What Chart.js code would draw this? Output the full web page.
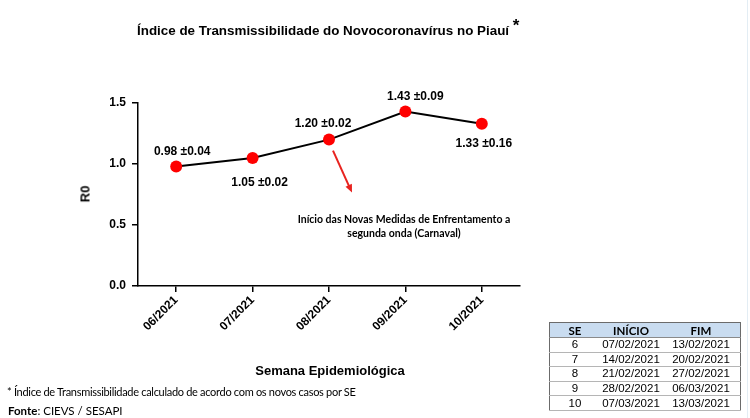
<!DOCTYPE html>
<html>
<head>
<meta charset="utf-8">
<script src="https://cdn.jsdelivr.net/npm/chart.js@4.4.0/dist/chart.umd.min.js"></script>
<style>
	body{ margin:0; background:#fff; }
	#wrap{ position:relative; width:750px; height:418px; overflow:hidden; }
	#wrap::after{ content:""; position:absolute; right:2px; top:0; width:1px; height:418px; background:#e3edf4; }
	canvas{ position:absolute; left:0; top:0; }
	.txt{ position:absolute; white-space:nowrap; color:#000; }
	#title{ left:137px; top:15px; font:bold 13.4px "Liberation Sans", Arial, sans-serif; }
	#title sup{ font-size:17px; position:relative; top:1px; }
	#ylab{ left:85px; top:194px; font:bold 13px "Liberation Sans", Arial, sans-serif; transform:translate(-50%,-50%) rotate(-90deg); }
	#xlab{ left:330px; top:370px; font:bold 13px "Liberation Sans", Arial, sans-serif; transform:translate(-50%,-50%); }
	#note{ left:404px; top:212px; font:bold 10.5px Lato, "Open Sans", sans-serif; text-align:center; line-height:14px; transform:translateX(-50%); }
	#foot1{ left:7px; top:385px; font:11px Lato, "Open Sans", sans-serif; letter-spacing:-0.3px; }
	#foot2{ left:8px; top:404px; font:11.5px Lato, "Open Sans", sans-serif; }
	#tbl{ position:absolute; left:549px; top:322px; width:192px; border-collapse:collapse; border:1px solid #6b6b6b; font:11.5px "Liberation Sans", Arial, sans-serif; }
	#tbl th{ background:#c9dcf0; font:bold 11.5px Lato, sans-serif; height:14px; padding:0; border-bottom:1px solid #8a8a8a; }
	#tbl td{ text-align:center; height:13.6px; padding:0; border-bottom:1px solid #b5b5b5; line-height:13px; }
</style>
</head>
<body>
<div id="wrap">
	<canvas id="chart" width="750" height="418"></canvas>
	<div class="txt" id="title">Índice de Transmissibilidade do Novocoronavírus no Piauí <sup>*</sup></div>
	<div class="txt" id="ylab">R0</div>
	<div class="txt" id="xlab">Semana Epidemiológica</div>
	<div class="txt" id="note">Início das Novas Medidas de Enfrentamento a<br>segunda onda (Carnaval)</div>
	<div class="txt" id="foot1">* Índice de Transmissibilidade calculado de acordo com os novos casos por SE</div>
	<div class="txt" id="foot2"><b>Fonte</b>: CIEVS / SESAPI</div>
	<table id="tbl"></table>
</div>
<script>
const SEMANAS = ["06/2021", "07/2021", "08/2021", "09/2021", "10/2021"];
const R0 = [0.98, 1.05, 1.20, 1.43, 1.33];
const ERRO = ["±0.04", "±0.02", "±0.02", "±0.09", "±0.16"];
const Y_TICKS = [0, 0.5, 1.0, 1.5];

const TAB_SE = [6, 7, 8, 9, 10];
const TAB_INICIO = ["07/02/2021", "14/02/2021", "21/02/2021", "28/02/2021", "07/03/2021"];
const TAB_FIM = ["13/02/2021", "20/02/2021", "27/02/2021", "06/03/2021", "13/03/2021"];

//Posizione delle etichette rispetto al punto (dx, dy).
const LABEL_OFFSET = [[6, -15], [7, 25], [-6, -16], [10, -15], [2, 20]];
const ARROW_POINT = 2;

//Tabella delle settimane.
let html = "<tr><th>SE</th><th>INÍCIO</th><th>FIM</th></tr>";
for(let i=0; i<TAB_SE.length; i++)
	html += "<tr><td style='width:50px'>" + TAB_SE[i] + "</td><td style='width:62px'>" + TAB_INICIO[i] + "</td><td>" + TAB_FIM[i] + "</td></tr>";
document.getElementById("tbl").innerHTML = html;

const labels_plugin = {
	id: "labels",
	afterDatasetsDraw(chart){
		const ctx = chart.ctx;
		const meta = chart.getDatasetMeta(0);

		//Freccia rossa.
		const p = meta.data[ARROW_POINT];
		const x0 = p.x + 4, y0 = p.y + 11, x1 = p.x + 23, y1 = p.y + 53;
		const a = Math.atan2(y1 - y0, x1 - x0);
		ctx.save();
		ctx.strokeStyle = "#e8231f";
		ctx.fillStyle = "#e8231f";
		ctx.lineWidth = 2;
		ctx.beginPath();
		ctx.moveTo(x0, y0);
		ctx.lineTo(x1 - 5 * Math.cos(a), y1 - 5 * Math.sin(a));
		ctx.stroke();
		ctx.beginPath();
		ctx.moveTo(x1, y1);
		ctx.lineTo(x1 - 8 * Math.cos(a) + 3.5 * Math.sin(a), y1 - 8 * Math.sin(a) - 3.5 * Math.cos(a));
		ctx.lineTo(x1 - 8 * Math.cos(a) - 3.5 * Math.sin(a), y1 - 8 * Math.sin(a) + 3.5 * Math.cos(a));
		ctx.closePath();
		ctx.fill();

		//Etichette dei valori.
		ctx.fillStyle = "#000";
		ctx.font = "bold 12px 'Liberation Sans', Arial, sans-serif";
		ctx.textAlign = "center";
		ctx.textBaseline = "middle";
		meta.data.forEach((pt, i) => {
			ctx.fillText(R0[i].toFixed(2) + " " + ERRO[i], pt.x + LABEL_OFFSET[i][0], pt.y + LABEL_OFFSET[i][1]);
		});
		ctx.restore();
	}
};

new Chart(document.getElementById("chart"), {
	type: "line",
	data: {
		labels: SEMANAS,
		datasets: [{
			data: R0,
			borderColor: "#000",
			borderWidth: 2,
			pointRadius: 6,
			pointHoverRadius: 6,
			pointBackgroundColor: "#ff0000",
			pointBorderColor: "#ff0000",
			pointBorderWidth: 0,
			tension: 0
		}]
	},
	options: {
		responsive: false,
		animation: false,
		events: [],
		layout: { padding: { left: 0, top: 103, right: 230, bottom: 0 } },
		plugins: { legend: { display: false }, title: { display: false }, tooltip: { enabled: false } },
		scales: {
			x: {
				offset: true,
				grid: { drawOnChartArea: false, offset: false, color: "#000", tickLength: 6, lineWidth: 1.5 },
				border: { color: "#000", width: 1.5 },
				ticks: { color: "#000", font: { family: "'Liberation Sans', Arial", size: 12, weight: "bold" }, minRotation: 45, maxRotation: 45, padding: 1 },
				afterFit: axis => { axis.height = 132; }
			},
			y: {
				min: 0,
				max: 1.5,
				afterBuildTicks: axis => { axis.ticks = Y_TICKS.map(v => ({ value: v })); },
				grid: { drawOnChartArea: false, color: "#000", tickLength: 6, lineWidth: 1.5 },
				border: { color: "#000", width: 1.5 },
				ticks: { color: "#000", font: { family: "'Liberation Sans', Arial", size: 12, weight: "bold" }, padding: 6, callback: v => Number(v).toFixed(1) },
				afterFit: axis => { axis.width = 138; }
			}
		}
	},
	plugins: [labels_plugin]
});
</script>
</body>
</html>
